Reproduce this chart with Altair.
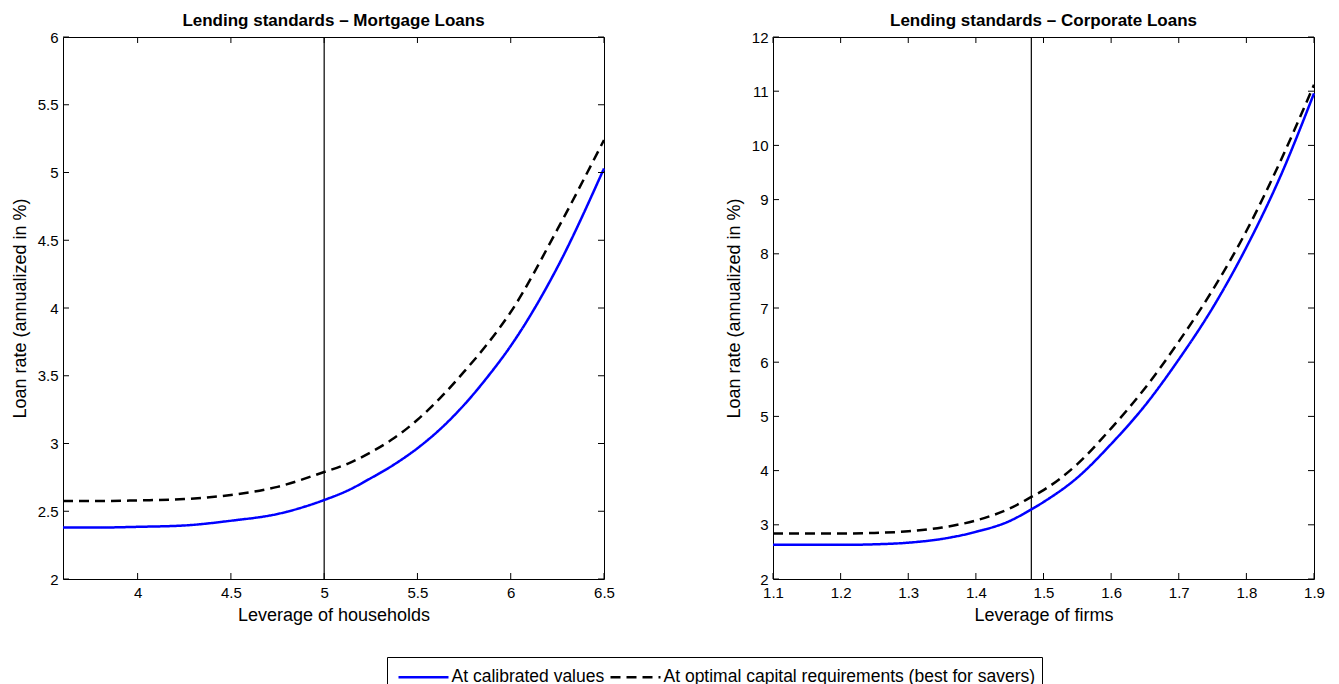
import altair as alt
import pandas as pd

FONT = "Liberation Sans"

series_names = ["At calibrated values",
                "At optimal capital requirements (best for savers)"]
series_colors = ["#0000ff", "#000000"]

# Mortgage loans panel
mort_x = [3.6, 3.8, 4.0, 4.25, 4.5, 4.75, 5.0, 5.125, 5.25, 5.375, 5.5, 5.625, 5.75, 5.875, 6.0, 6.25, 6.5]
mort_cal = [2.38, 2.38, 2.385, 2.395, 2.43, 2.48, 2.583, 2.652, 2.744, 2.845, 2.965, 3.11, 3.285, 3.49, 3.72, 4.30, 5.03]
mort_opt = [2.575, 2.575, 2.58, 2.59, 2.62, 2.68, 2.79, 2.85, 2.935, 3.04, 3.175, 3.34, 3.53, 3.735, 3.97, 4.58, 5.24]
mort_xticks = [4, 4.5, 5, 5.5, 6, 6.5]
mort_yticks = [2, 2.5, 3, 3.5, 4, 4.5, 5, 5.5, 6]
mort_ref = [5.0]

# Corporate loans panel
corp_x = [1.1, 1.2, 1.25, 1.3, 1.35, 1.4, 1.45, 1.48, 1.5, 1.55, 1.6, 1.65, 1.7, 1.75, 1.8, 1.85, 1.9]
corp_cal = [2.63, 2.63, 2.64, 2.67, 2.74, 2.87, 3.07, 3.27, 3.42, 3.87, 4.49, 5.20, 6.05, 7.00, 8.12, 9.42, 10.96]
corp_opt = [2.84, 2.84, 2.85, 2.88, 2.95, 3.08, 3.30, 3.50, 3.64, 4.12, 4.78, 5.52, 6.38, 7.33, 8.42, 9.70, 11.12]
corp_xticks = [1.1, 1.2, 1.3, 1.4, 1.5, 1.6, 1.7, 1.8, 1.9]
corp_yticks = [2, 3, 4, 5, 6, 7, 8, 9, 10, 11, 12]
corp_ref = [1.482]

W = 541
H = 542
TICK = 6


def panel(title, xlab, xs, cal, opt, xdom, ydom, xticks, yticks, ref):
    n = len(xs)
    df = pd.DataFrame({
        "x": xs + xs,
        "y": cal + opt,
        "series": [series_names[0]] * n + [series_names[1]] * n,
    })
    xscale = alt.Scale(domain=xdom, nice=False, zero=False)
    yscale = alt.Scale(domain=ydom, nice=False, zero=False)

    lines = alt.Chart(df).mark_line(strokeWidth=2.5, interpolate="monotone").encode(
        x=alt.X("x:Q", scale=xscale,
                axis=alt.Axis(values=xticks, format="~g", title=xlab, labelFlush=False,
                              labelOverlap=False, ticks=False, domain=False, grid=False,
                              labelPadding=6, titlePadding=6)),
        y=alt.Y("y:Q", scale=yscale,
                axis=alt.Axis(values=yticks, format="~g", title="Loan rate (annualized in %)",
                              labelOverlap=False, ticks=False, domain=False, grid=False,
                              labelPadding=5, titlePadding=8)),
        color=alt.Color("series:N", scale=alt.Scale(domain=series_names, range=series_colors),
                        legend=alt.Legend(title=None)),
        strokeDash=alt.StrokeDash("series:N",
                                  scale=alt.Scale(domain=series_names, range=[[1, 0], [10, 6]]),
                                  legend=alt.Legend(title=None)),
    )

    xt = alt.Chart(pd.DataFrame({"x": xticks}))
    yt = alt.Chart(pd.DataFrame({"y": yticks}))
    tb = xt.mark_rule(color="black", strokeWidth=1).encode(
        x=alt.X("x:Q", scale=xscale), y=alt.value(H), y2=alt.value(H - TICK))
    tt = xt.mark_rule(color="black", strokeWidth=1).encode(
        x=alt.X("x:Q", scale=xscale), y=alt.value(0), y2=alt.value(TICK))
    tl = yt.mark_rule(color="black", strokeWidth=1).encode(
        y=alt.Y("y:Q", scale=yscale), x=alt.value(0), x2=alt.value(TICK))
    tr = yt.mark_rule(color="black", strokeWidth=1).encode(
        y=alt.Y("y:Q", scale=yscale), x=alt.value(W), x2=alt.value(W - TICK))

    vline = alt.Chart(pd.DataFrame({"x": ref})).mark_rule(color="black", strokeWidth=1.2).encode(
        x=alt.X("x:Q", scale=xscale))

    return alt.layer(vline, lines, tb, tt, tl, tr).properties(
        width=W, height=H,
        title=alt.TitleParams(title, font=FONT, fontSize=17, fontWeight="bold",
                              color="black", offset=0),
    )


left = panel("Lending standards \u2013 Mortgage Loans", "Leverage of households",
             mort_x, mort_cal, mort_opt, [3.6, 6.5], [2, 6], mort_xticks, mort_yticks, mort_ref)
right = panel("Lending standards \u2013 Corporate Loans", "Leverage of firms",
              corp_x, corp_cal, corp_opt, [1.1, 1.9], [2, 12], corp_xticks, corp_yticks, corp_ref)

chart = alt.hconcat(left, right, spacing=109).properties(
    padding={"left": 2, "top": 3, "right": 0, "bottom": 0}
).configure_view(
    stroke="black", strokeWidth=1
).configure_axis(
    labelFont=FONT, labelFontSize=15, labelColor="black",
    titleFont=FONT, titleFontSize=18, titleFontWeight="normal", titleColor="black",
).configure_legend(
    orient="none", legendX=324, legendY=620, direction="horizontal",
    strokeColor="black", padding=6, fillColor="white",
    labelFont=FONT, labelFontSize=17.5, labelColor="black", labelLimit=1000,
    symbolType="M-2,0H2", symbolSize=625, symbolOffset=16.5, labelOffset=14,
    symbolStrokeWidth=2.5, columnPadding=0,
)

chart.save("out.html", embed_options={"renderer": "svg", "actions": False})
